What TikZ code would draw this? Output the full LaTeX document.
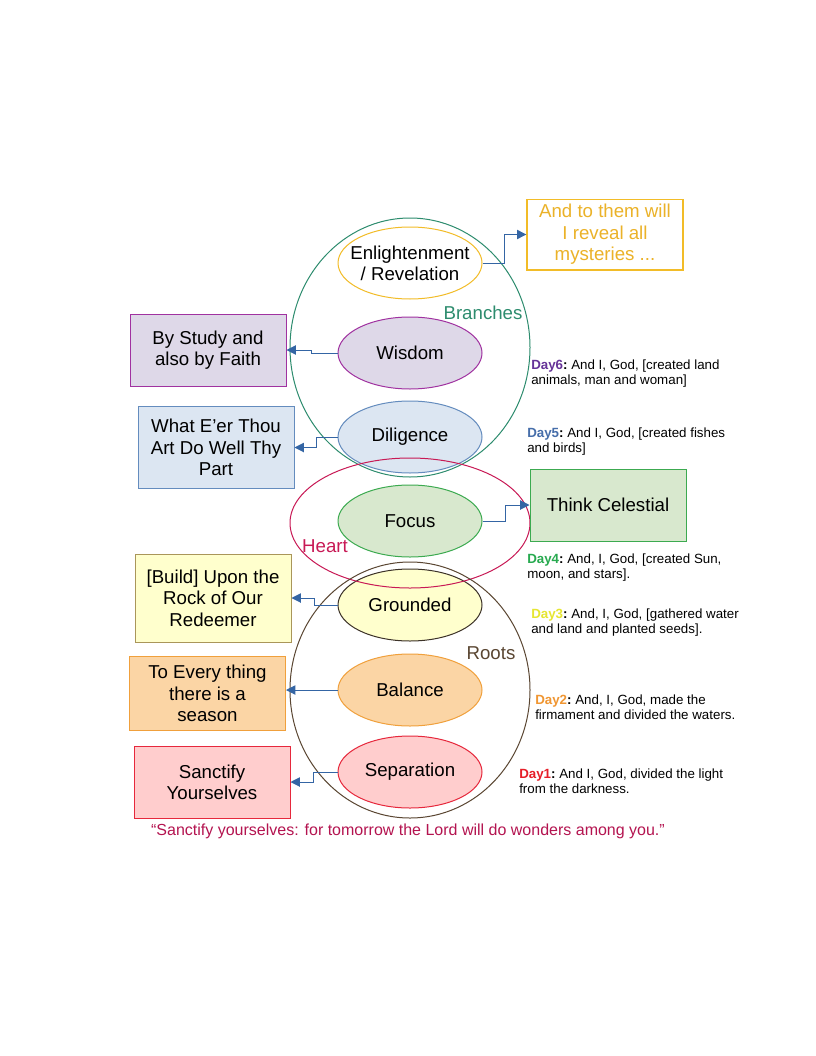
\documentclass[tikz,border=0pt]{standalone}
\usepackage{fontspec}
\setmainfont{Liberation Sans}
\usetikzlibrary{shapes.geometric,arrows.meta,calc}
\definecolor{teal1}{RGB}{45,140,110}
\definecolor{heartc}{RGB}{200,25,85}
\definecolor{rootc}{RGB}{90,70,50}
\definecolor{quotec}{RGB}{180,20,80}
\definecolor{arrowc}{RGB}{52,101,164}
\definecolor{goldc}{RGB}{242,188,40}
\definecolor{goldt}{RGB}{235,178,40}
\definecolor{wisf}{RGB}{222,216,232}
\definecolor{wisb}{RGB}{160,50,160}
\definecolor{dilf}{RGB}{220,230,242}
\definecolor{dilb}{RGB}{100,140,190}
\definecolor{focf}{RGB}{216,232,206}
\definecolor{focb}{RGB}{60,170,80}
\definecolor{grof}{RGB}{255,255,205}
\definecolor{grob}{RGB}{60,50,40}
\definecolor{buildb}{RGB}{170,150,90}
\definecolor{balf}{RGB}{251,213,165}
\definecolor{balb}{RGB}{240,160,60}
\definecolor{sepf}{RGB}{255,205,205}
\definecolor{sepb}{RGB}{230,40,60}
\definecolor{dsix}{RGB}{102,51,153}
\definecolor{dfive}{RGB}{70,110,170}
\definecolor{dfour}{RGB}{40,170,80}
\definecolor{dthree}{RGB}{230,230,50}
\definecolor{dtwo}{RGB}{240,150,50}
\definecolor{done}{RGB}{230,30,40}
\begin{document}
\begin{tikzpicture}[x=0.75pt,y=-0.75pt,
  virtue/.style={ellipse,draw,line width=0.75pt,minimum width=108pt,minimum height=54pt,inner sep=0pt,align=center,font=\fontsize{14}{16}\selectfont},
  box/.style={rectangle,draw,line width=0.75pt,inner sep=0pt,align=center,font=\fontsize{14}{16}\selectfont,minimum width=117pt},
  conn/.style={draw=arrowc,line width=0.75pt,-{Triangle[length=7pt,width=7pt]}},
  big/.style={draw,line width=0.75pt},
  grouplabel/.style={font=\fontsize{14}{16}\selectfont,inner sep=0pt},
  daytext/.style={anchor=west,align=left,inner sep=0pt,font=\fontsize{10}{11.25}\selectfont}]
\useasboundingbox[fill=white] (0,0) rectangle (816,1056);

% small ellipses
\node[virtue,draw=goldc,fill=white] (enl) at (410,263) {\makebox[0pt]{Enlightenment}\\\makebox[0pt]{/ Revelation}};
\node[virtue,draw=wisb,fill=wisf] (wis) at (410,353) {Wisdom};
\node[virtue,draw=dilb,fill=dilf] (dil) at (410,437) {Diligence};
\node[virtue,draw=focb,fill=focf] (foc) at (410,521) {Focus};
\node[virtue,draw=grob,fill=grof] (gro) at (410,605) {Grounded};
\node[virtue,draw=balb,fill=balf] (bal) at (410,690) {Balance};
\node[virtue,draw=sepb,fill=sepf] (sep) at (410,772) {Separation};

% big group ellipses
\draw[big,teal1] (410,347.5) ellipse [x radius=120,y radius=129.5];
\draw[big,heartc] (410,523) ellipse [x radius=120,y radius=65];
\draw[big,rootc] (410,690) ellipse [x radius=120,y radius=128];

\node[grouplabel,text=teal1] (lbranch) at (483,313) {Branches};
\node[grouplabel,text=heartc] (lheart) at (325,546) {Heart};
\node[grouplabel,text=rootc] (lroots) at (491,653) {Roots};

% boxes
\node[box,draw=goldc,line width=1pt,fill=white,text=goldt,minimum height=53pt] (reveal) at (605,234.5) {And to them will\\I reveal all\\mysteries ...};
\node[box,draw=wisb,fill=wisf,minimum height=54pt] (study) at (208,350) {By Study and\\also by Faith};
\node[box,draw=dilb,fill=dilf,minimum height=62pt] (whateer) at (216,447.5) {What E’er Thou\\Art Do Well Thy\\Part};
\node[box,draw=focb,fill=focf,minimum height=54pt] (celestial) at (608,505) {Think Celestial};
\node[box,draw=buildb,fill=grof,minimum height=66pt] (build) at (213,598) {[Build] Upon the\\Rock of Our\\Redeemer};
\node[box,draw=balb,fill=balf,minimum height=55pt] (every) at (207.5,693.5) {To Every thing\\there is a\\season};
\node[box,draw=sepb,fill=sepf,minimum height=54pt] (sanctify) at (212,782) {Sanctify\\Yourselves};

% connectors
\draw[conn] (enl.east) -- ++(22,0) |- (reveal.west);
\draw[conn] (wis.west) -- ++(-26,0) |- (study.east);
\draw[conn] (dil.west) -- ++(-21,0) |- (whateer.east);
\draw[conn] (foc.east) -- ++(23,0) |- (celestial.west);
\draw[conn] (gro.west) -- ++(-23,0) |- (build.east);
\draw[conn] (bal.west) -- (bal.west -| every.east);
\draw[conn] (sep.west) -- ++(-24,0) |- (sanctify.east);

% day texts
\node[daytext] (d6) at (531,373.5) {\textbf{\textcolor{dsix}{Day6}:}\ And I, God, [created land\\animals, man and woman]};
\node[daytext] (d5) at (527,441.5) {\textbf{\textcolor{dfive}{Day5}:}\ And I, God, [created fishes\\and birds]};
\node[daytext] (d4) at (527,567.5) {\textbf{\textcolor{dfour}{Day4}:}\ And, I, God, [created Sun,\\moon, and stars].};
\node[daytext] (d3) at (531,622.5) {\textbf{\textcolor{dthree}{Day3}:}\ And, I, God, [gathered water\\and land and planted seeds].};
\node[daytext] (d2) at (535,707.5) {\textbf{\textcolor{dtwo}{Day2}:}\ And, I, God, made the\\firmament and divided the waters.};
\node[daytext] (d1) at (519,781.5) {\textbf{\textcolor{done}{Day1}:}\ And I, God, divided the light\\from the darkness.};

% quote
\node[inner sep=0pt,text=quotec,font=\fontsize{12}{14}\selectfont] (quote) at (408,831) {“Sanctify yourselves: for tomorrow the Lord will do wonders among you.”};
\end{tikzpicture}
\end{document}
